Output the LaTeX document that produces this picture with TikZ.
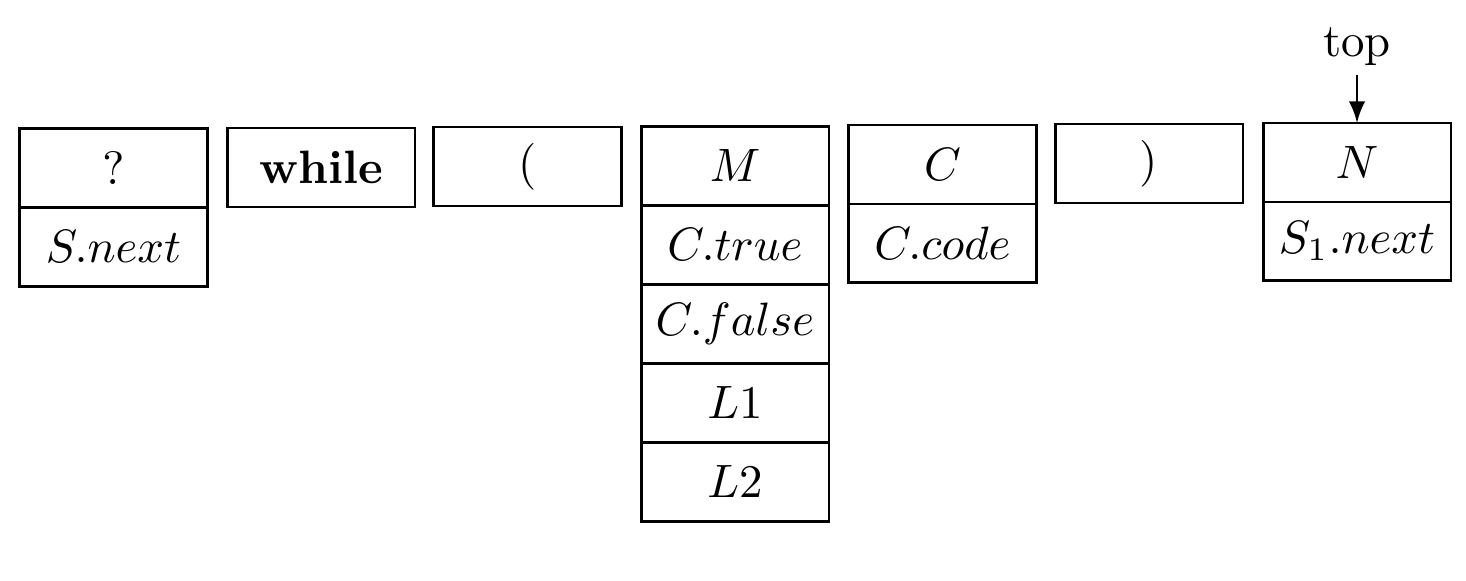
\documentclass[tikz,border=0pt]{standalone}
\usetikzlibrary{positioning}
\begin{document}
\begin{tikzpicture}[>=latex,semithick]
\def\ds{0.0075}
\def\punkt#1#2{({(#1)*\ds},{(-#2)*\ds})}
\tikzset{zelle/.style={draw,minimum width=1.41cm,minimum height=0.5925cm,
	inner sep=0pt,outer sep=0pt,anchor=north}}
\useasboundingbox \punkt{0}{0} rectangle \punkt{1466}{580};
% obere Zeile des Stapels
\foreach \n/\x/\y/\t in {a/113.5/128.5/{$?$},b/321/128/{\textbf{while}},
	c/527.5/127/{(},d/735/126.5/{$M$},e/942.5/125/{$C$},
	f/1149/124/{)},g/1357/123/{$N$}}{
	\node[zelle] (\n1) at \punkt{\x}{\y} {\t};
}
\node[zelle,below=0pt of a1] (a2) {$S.next$};
\node[zelle,below=0pt of d1] (d2) {$C.true$};
\node[zelle,below=0pt of d2] (d3) {$C.false$};
\node[zelle,below=0pt of d3] (d4) {$L1$};
\node[zelle,below=0pt of d4] (d5) {$L2$};
\node[zelle,below=0pt of e1] (e2) {$C.code$};
\node[zelle,below=0pt of g1] (g2) {$S_1.next$};
\node[above=0.36cm of g1,inner sep=1.8pt] (top) {top};
\draw[->] (top) -- (g1);
\end{tikzpicture}
\end{document}
